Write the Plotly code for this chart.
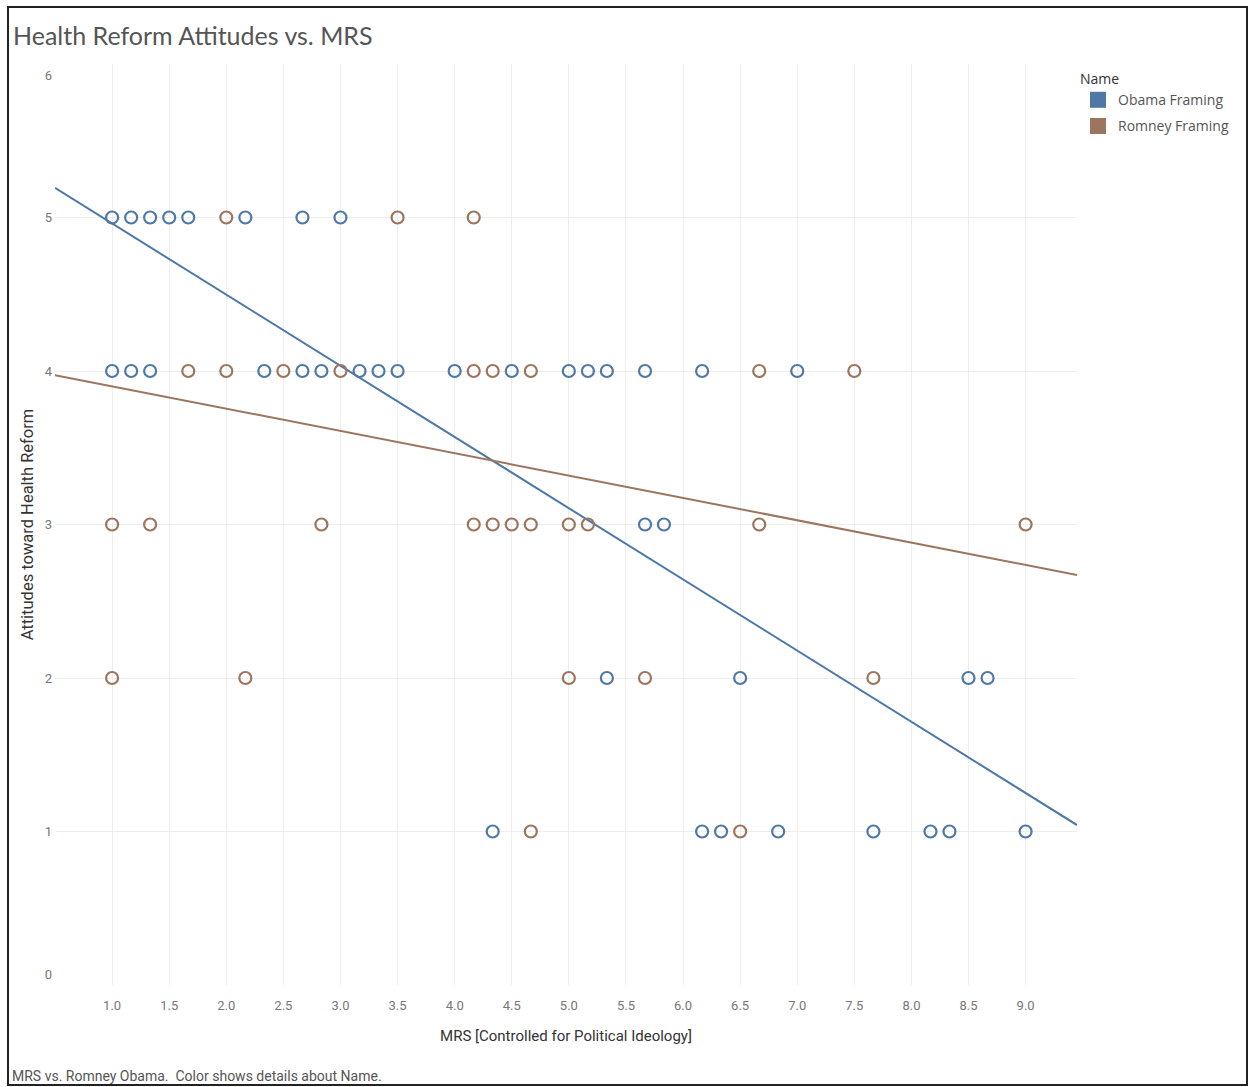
import plotly.graph_objects as go

# ---- data ----
obama_x = [1.0, 1.167, 1.333, 1.5, 1.667, 2.167, 2.667, 3.0,
           1.0, 1.167, 1.333, 2.333, 2.667, 2.833, 3.167, 3.333, 3.5, 4.0, 4.5, 5.0, 5.167, 5.333, 5.667, 6.167, 7.0,
           5.667, 5.833,
           5.333, 6.5, 8.5, 8.667,
           4.333, 6.167, 6.333, 6.833, 7.667, 8.167, 8.333, 9.0]
obama_y = [5, 5, 5, 5, 5, 5, 5, 5,
           4, 4, 4, 4, 4, 4, 4, 4, 4, 4, 4, 4, 4, 4, 4, 4, 4,
           3, 3,
           2, 2, 2, 2,
           1, 1, 1, 1, 1, 1, 1, 1]

romney_x = [2.0, 3.5, 4.167,
            1.667, 2.0, 2.5, 3.0, 4.167, 4.333, 4.667, 6.667, 7.5,
            1.0, 1.333, 2.833, 4.167, 4.333, 4.5, 4.667, 5.0, 5.167, 6.667, 9.0,
            1.0, 2.167, 5.0, 5.667, 7.667,
            4.667, 6.5]
romney_y = [5, 5, 5,
            4, 4, 4, 4, 4, 4, 4, 4, 4,
            3, 3, 3, 3, 3, 3, 3, 3, 3, 3, 3,
            2, 2, 2, 2, 2,
            1, 1]

# trend lines (slope, intercept)
obama_trend = [-0.4638, 5.425]
romney_trend = [-0.1455, 4.046]

x_ticks = [1.0, 1.5, 2.0, 2.5, 3.0, 3.5, 4.0, 4.5, 5.0, 5.5, 6.0, 6.5, 7.0, 7.5, 8.0, 8.5, 9.0]
y_ticks = [0, 1, 2, 3, 4, 5, 6]
# edge labels 0 and 6 sit slightly inside the plot, as in the reference
y_label_pos = [0.072, 1, 2, 3, 4, 5, 5.928]

BLUE = "#4e79a7"
BROWN = "#9c755f"
X_RANGE = [0.5, 9.45]
Y_RANGE = [0, 6]

W, H = 1249, 1087
L, R, T, B = 55, 1077, 64, 985   # plot area in pixels


def px(xp):
    return (xp - L) / (R - L)


def py(yp):
    return (B - yp) / (B - T)


fig = go.Figure()

for trend, color in [(obama_trend, BLUE), (romney_trend, BROWN)]:
    fig.add_trace(go.Scatter(
        x=X_RANGE, y=[trend[0] * X_RANGE[0] + trend[1], trend[0] * X_RANGE[1] + trend[1]],
        mode="lines", line=dict(color=color, width=2), showlegend=False, hoverinfo="skip"))

for xs, ys, color, name in [(obama_x, obama_y, BLUE, "Obama Framing"),
                            (romney_x, romney_y, BROWN, "Romney Framing")]:
    fig.add_trace(go.Scatter(
        x=xs, y=ys, mode="markers", name=name, showlegend=False,
        marker=dict(symbol="circle-open", size=12, color=color, line=dict(width=2.2, color=color))))

# legend-only traces with square swatches (also carry the label axis)
for color, name in [(BLUE, "Obama Framing"), (BROWN, "Romney Framing")]:
    fig.add_trace(go.Scatter(x=[None], y=[None], mode="markers", name=name, legendgroup=name,
                             yaxis="y2",
                             marker=dict(symbol="square", size=16, color=color)))

axis_font = dict(family="Liberation Sans Narrow, Roboto, sans-serif", size=13, color="#777777")

fig.update_layout(
    width=W, height=H,
    paper_bgcolor="white", plot_bgcolor="white",
    margin=dict(l=L, r=W - R, t=T, b=H - B),
    title=dict(text="Health Reform Attitudes vs. MRS", x=13 / W, xanchor="left",
               y=1 - 36 / H, yanchor="middle",
               font=dict(family="Lato, Open Sans, sans-serif", size=25, color="#555555")),
    xaxis=dict(range=X_RANGE, tickvals=x_ticks, ticktext=[f"{v:.1f}" for v in x_ticks],
               showgrid=True, gridcolor="#eeeeee", gridwidth=1, zeroline=False,
               showline=False, ticks="", tickfont=axis_font, ticklabelstandoff=11,
               title=dict(text="MRS [Controlled for Political Ideology]", standoff=18,
                          font=dict(family="Liberation Sans Narrow, Roboto, sans-serif", size=15, color="#333333"))),
    yaxis=dict(range=Y_RANGE, tickvals=y_ticks, showgrid=True, gridcolor="#eeeeee", gridwidth=1,
               zeroline=False, showline=False, ticks="", showticklabels=False),
    yaxis2=dict(range=Y_RANGE, overlaying="y", side="left", tickvals=y_label_pos,
                ticktext=[str(v) for v in y_ticks], showgrid=False, zeroline=False, showline=False,
                ticks="", tickfont=axis_font, ticklabelstandoff=2,
                title=dict(text="Attitudes toward Health Reform", standoff=6,
                           font=dict(family="Liberation Sans Narrow, Roboto, sans-serif", size=16.5, color="#333333"))),
    legend=dict(x=px(1078), xanchor="left", y=py(66), yanchor="top",
                title=dict(text="Name", font=dict(family="Open Sans, sans-serif", size=14, color="#333333")),
                font=dict(family="Open Sans, sans-serif", size=14, color="#555555"),
                itemsizing="trace", itemwidth=30, tracegroupgap=5, bgcolor="rgba(0,0,0,0)"),
    shapes=[dict(type="rect", xref="paper", yref="paper",
                 x0=px(8), x1=px(1247), y0=py(1085), y1=py(7),
                 line=dict(color="#222222", width=2), fillcolor="rgba(0,0,0,0)", layer="below")],
    annotations=[dict(text="MRS vs. Romney Obama.  Color shows details about Name.",
                      xref="paper", yref="paper", x=px(10), y=py(1076),
                      xanchor="left", yanchor="middle", showarrow=False,
                      font=dict(family="Liberation Sans Narrow, Roboto, sans-serif", size=14, color="#555555"))],
)

fig.write_html("out.html", config={"displayModeBar": False},
               post_script="document.body.style.margin='0';document.body.style.overflow='hidden';"
                           "document.documentElement.style.overflow='hidden';")
